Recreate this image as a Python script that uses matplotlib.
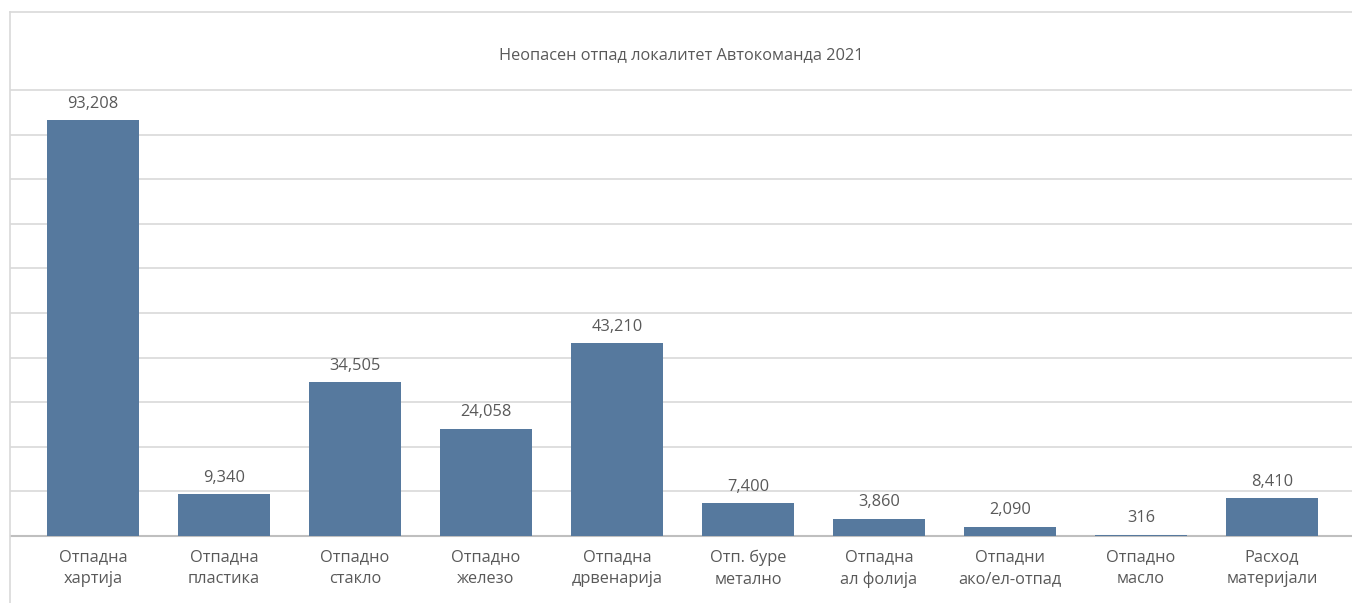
import matplotlib
matplotlib.use("Agg")
from matplotlib import pyplot as plt
from matplotlib.lines import Line2D

categories = ["Отпадна\nхартија", "Отпадна\nпластика", "Отпадно\nстакло",
              "Отпадно\nжелезо", "Отпадна\nдрвенарија", "Отп. буре\nметално",
              "Отпадна\nал фолија", "Отпадни\nако/ел-отпад", "Отпадно\nмасло",
              "Расход\nматеријали"]
values = [93208, 9340, 34505, 24058, 43210, 7400, 3860, 2090, 316, 8410]
title = "Неопасен отпад локалитет Автокоманда 2021"

W, H = 1352, 603
plt.rcParams['font.family'] = ['Open Sans', 'DejaVu Sans']
text_col = '#595959'

fig = plt.figure(figsize=(W / 100, H / 100), dpi=100, facecolor='w')

# plot area in pixel coords
left, right, top, bottom = 11, 1352, 90, 536
ax = fig.add_axes([left / W, (H - bottom) / H, (right - left) / W, (bottom - top) / H])

x = list(range(len(values)))
bars = ax.bar(x, values, width=0.70, color='#56799e', zorder=3)
ax.bar_label(bars, labels=[f"{v:,}" for v in values], padding=6,
             fontsize=11.8, color=text_col)

# x limits so that bar 0 sits at px 93 and spacing is 131 px
x0, step = 93, 131
ax.set_xlim((left - x0) / step, (right - x0) / step)
ax.set_ylim(0, 100000)
ax.set_yticks(range(0, 100001, 10000))
ax.yaxis.grid(True, color='#d9d9d9', linewidth=1.2, zorder=0)
for gl in ax.get_ygridlines():
    gl.set_clip_on(False)
ax.tick_params(axis='y', left=False, labelleft=False)
ax.tick_params(axis='x', bottom=False, colors=text_col, labelsize=11.8, pad=6)
ax.set_xticks(x)
ax.set_xticklabels(categories, linespacing=1.5)
for s in ['top', 'right', 'left']:
    ax.spines[s].set_visible(False)
ax.spines['bottom'].set_color('#bfbfbf')
ax.spines['bottom'].set_linewidth(1.5)

# chart area border (left and top)
fig.add_artist(Line2D([10 / W, 10 / W], [0, (H - 12) / H], color='#d9d9d9', lw=1.2,
                      transform=fig.transFigure))
fig.add_artist(Line2D([10 / W, 1], [(H - 12) / H, (H - 12) / H], color='#d9d9d9', lw=1.2,
                      transform=fig.transFigure))

fig.text(681 / W, (H - 55) / H, title, ha='center', va='center', fontsize=11.8,
         color=text_col)

fig.savefig("out.png", dpi=100, facecolor='w')
